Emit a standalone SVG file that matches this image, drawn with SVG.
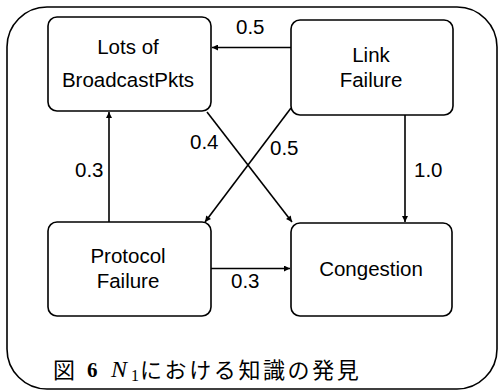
<svg xmlns="http://www.w3.org/2000/svg" width="499" height="391" viewBox="0 0 499 391">
<defs>
<style>
.frame{fill:none;stroke:#000;stroke-width:1.6}
.box{fill:#fff;stroke:#000;stroke-width:1.6}
.t{font-family:"Liberation Sans",Arial,sans-serif;font-size:20.5px;fill:#000;text-anchor:middle}
.lbl{font-family:"Liberation Sans",Arial,sans-serif;font-size:20.5px;fill:#000}
.e{fill:none;stroke:#000;stroke-width:1.6;marker-end:url(#ah)}
.cap{font-family:"Noto Sans CJK JP","Liberation Serif",serif;font-size:22px;fill:#000}
</style>
<marker id="ah" viewBox="0 0 10 10" refX="10" refY="5" markerWidth="8" markerHeight="6" markerUnits="userSpaceOnUse" orient="auto">
<path d="M0,0 L10,5 L0,10 Z" fill="#000"/>
</marker>
</defs>
<rect width="499" height="391" fill="#fff"/>
<rect class="frame" x="7" y="7" width="490" height="382" rx="40" ry="40"/>
<g id="connectors">
<line class="e" x1="291" y1="47.5" x2="212" y2="47.5"/>
<line class="e" x1="405" y1="115" x2="405" y2="222"/>
<line class="e" x1="109" y1="222" x2="109" y2="112"/>
<line class="e" x1="207" y1="112" x2="292" y2="222"/>
<line class="e" x1="291" y1="108" x2="205" y2="222"/>
<line class="e" x1="211" y1="268.5" x2="290" y2="268.5"/>
<text class="lbl" x="236" y="34">0.5</text>
<text class="lbl" x="414" y="177">1.0</text>
<text class="lbl" x="75" y="177">0.3</text>
<text class="lbl" x="190" y="149">0.4</text>
<text class="lbl" x="270" y="155">0.5</text>
<text class="lbl" x="231" y="288">0.3</text>
</g>
<g id="lots">
<rect class="box" x="48" y="17" width="163" height="94" rx="9"/>
<text class="t" x="128" y="54">Lots of</text>
<text class="t" x="128" y="87">BroadcastPkts</text>
</g>
<g id="link">
<rect class="box" x="291" y="20" width="162" height="95" rx="9"/>
<text class="t" x="371" y="62">Link</text>
<text class="t" x="371" y="87">Failure</text>
</g>
<g id="protocol">
<rect class="box" x="48" y="222" width="163" height="94" rx="9"/>
<text class="t" x="128" y="263">Protocol</text>
<text class="t" x="128" y="288">Failure</text>
</g>
<g id="congestion">
<rect class="box" x="291" y="223" width="161" height="93" rx="9"/>
<text class="t" x="371" y="276">Congestion</text>
</g>
<g id="caption">
<text class="cap" x="53" y="378">図</text>
<text x="87" y="377" font-family="'Liberation Serif',serif" font-weight="bold" font-size="21">6</text>
<text x="111" y="377" font-family="'Liberation Serif',serif" font-style="italic" font-size="24">N</text>
<text x="131" y="381" font-family="'Liberation Serif',serif" font-size="16">1</text>
<text class="cap" x="140" y="378" letter-spacing="2.6">における知識の発見</text>
</g>
</svg>
